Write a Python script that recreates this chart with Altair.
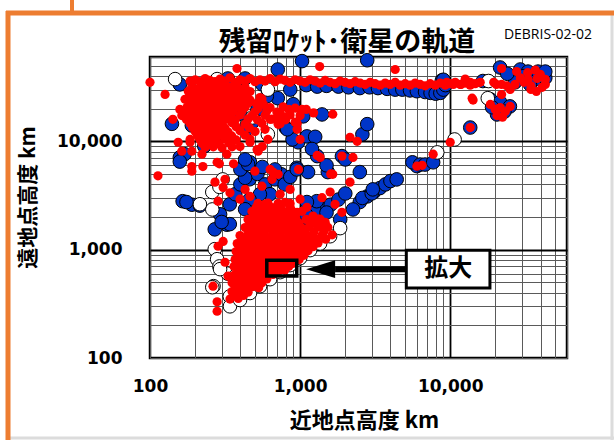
import altair as alt
import pandas as pd

# ---- data: (perigee km, apogee km) ----
BLUE = [
    (158, 33500), (330, 38000), (430, 38000), (710, 46000), (1030, 55000), (2800, 56000),
    (200, 25000), (140, 14500), (190, 14000), (158, 7100), (170, 7600), (215, 16600),
    (520, 19700), (560, 33500), (860, 30000), (710, 25000), (800, 13400), (440, 12900),
    (970, 9800), (890, 10400), (1110, 11100), (820, 12900), (440, 13800), (1400, 17700),
    (1050, 17000), (1260, 11000), (2600, 11600), (2800, 14400), (1300, 7300), (1900, 7300),
    (950, 5700), (2500, 5200), (464, 6400), (420, 5900), (1530, 5200), (1130, 5200),
    (1500, 6000), (1200, 8500), (2000, 6800), (250, 11000), (230, 9000), (320, 28000),
    (380, 30000), (900, 22000), (600, 26000), (300, 12000), (350, 22000), (400, 18000),
    (480, 15000), (280, 16000), (250, 20000),
    (1100, 33000), (1300, 32000), (1500, 32500), (1800, 32000), (2100, 31500), (2500, 31000),
    (2900, 31500), (3300, 31000), (3800, 30500), (4300, 30000), (4800, 30000), (5400, 29500),
    (6000, 29000), (6800, 28500), (7400, 28000), (8000, 27500), (8600, 28000), (9000, 30000),
    (9300, 33000), (8800, 36500), (9000, 37000),
    (21500, 48000), (29300, 46000), (33000, 44000), (36900, 41500), (39800, 37300),
    (43000, 38500), (34000, 33500), (27000, 35000), (38500, 44000), (16500, 36000),
    (43000, 44000), (31000, 40000), (24000, 42000),
    (18500, 24400), (21500, 23000), (25000, 21000), (20500, 17700), (23000, 18800),
    (19000, 20600), (13600, 13400),
    (6000, 5900), (5600, 6400), (6300, 6100), (6800, 6100), (7700, 6400),
    (2500, 2750), (2800, 3100), (3100, 3400), (3400, 3700), (3700, 4000), (4000, 4300),
    (4400, 4450), (2600, 3000), (3000, 3300), (1000, 1700), (1150, 1900), (1300, 2100),
    (1450, 2400), (1600, 2600), (1800, 2900), (2000, 3300), (1250, 2300), (1100, 2100),
    (1290, 2800), (1500, 2200), (1850, 1900), (2250, 2350), (3050, 3600), (1110, 2750),
    (158, 6500), (190, 2600), (215, 2550), (165, 2800), (175, 2750), (270, 1540),
    (325, 1700), (293, 2120), (340, 2620), (370, 3250), (400, 4000), (460, 4460),
    (520, 5000), (585, 4000), (630, 3250), (540, 3250), (460, 2900), (430, 2360),
    (500, 2120), (680, 4460), (750, 4960), (430, 4600), (400, 5500), (560, 5800),
    (680, 5500), (790, 4000), (860, 4700), (340, 1720), (300, 1800), (450, 6150),
    (430, 6800), (950, 5500),
]

WHITE = [
    (147, 37500), (280, 37500), (610, 30000), (480, 16600), (610, 11600), (10700, 10400),
    (8200, 7900), (17800, 25000), (18000, 36000), (260, 3400), (290, 3800), (305, 4450),
    (260, 2350), (215, 2625), (270, 1010), (280, 816), (290, 700), (330, 600), (370, 570),
    (265, 460), (260, 450), (340, 370), (293, 661),
    (341, 300), (398, 343), (464, 398), (541, 460), (631, 534), (736, 620), (858, 720),
    (1000, 835), (1166, 990), (1359, 1140), (1585, 1330), (1848, 1580),
]

RED_BAND = [
    (100, 35000), (185, 36000), (200, 37000), (215, 35500), (233, 38000), (251, 36500),
    (271, 35500), (293, 37500), (316, 36000), (341, 38500), (369, 35000), (398, 37000),
    (430, 36000), (464, 38000), (501, 35500), (541, 37000), (584, 36000), (631, 38000),
    (681, 35500), (736, 37500), (794, 36500), (858, 35000), (926, 37000), (1000, 36000),
    (1080, 35000), (1166, 37000), (1259, 36000), (1359, 34500), (1468, 36500), (1585, 35000),
    (1711, 34000), (1848, 36000), (1995, 35000), (2154, 34000), (2326, 35500), (2512, 34500),
    (2712, 33500), (2929, 35000), (3162, 34000), (3415, 33000), (3687, 34500), (3981, 33500),
    (4299, 35000), (4642, 33000), (5012, 34000), (5412, 33000), (5843, 34500), (6310, 33500),
    (6813, 32500), (7356, 34000), (7943, 33000), (8577, 34500), (9261, 33000), (10000, 34000),
    (10800, 35000), (11660, 33500), (12590, 34500), (13590, 33000), (14680, 34000),
    (15850, 35000), (1350, 49000), (4300, 46000), (380, 47000), (13600, 35000),
    (19500, 35000), (22000, 33500),
]

RED_CLOUD = [
    (190, 32000), (215, 31500), (240, 32500), (270, 31800), (300, 32200), (340, 31600),
    (380, 32000), (430, 31500),
    (180, 28900), (204, 29500), (229, 28500), (259, 29200), (293, 28700), (331, 29300),
    (375, 28600), (424, 29100), (464, 28800),
    (188, 26500), (210, 26800), (236, 26200), (265, 26700), (300, 26300), (345, 26600),
    (390, 26200), (440, 26500),
    (171, 24400), (194, 24800), (219, 24100), (247, 24600), (279, 24200), (316, 24700),
    (358, 24300), (405, 24500), (464, 24000), (557, 24600),
    (185, 22400), (210, 22700), (238, 22200), (270, 22600), (305, 22300), (345, 22500),
    (395, 22200), (450, 22600), (510, 22300),
    (176, 20500), (200, 20900), (225, 20200), (254, 20700), (288, 20300), (325, 20800),
    (369, 20400), (430, 20600), (524, 20100), (631, 20500), (770, 20800), (926, 20200),
    (170, 18800), (192, 19100), (215, 18600), (245, 19000), (278, 18700), (315, 19000),
    (355, 18600), (410, 18900), (500, 18700), (600, 19000), (700, 18600),
    (163, 17300), (185, 17600), (209, 17100), (236, 17500), (268, 17200), (302, 17400),
    (341, 17000), (398, 17500), (478, 17200), (584, 17400), (714, 17100), (858, 17500),
    (1000, 17300),
    (175, 15900), (197, 16200), (222, 15700), (252, 16100), (285, 15800), (325, 16000),
    (370, 15700), (450, 16100), (520, 15800), (650, 16000), (800, 15800),
    (185, 14600), (209, 14900), (236, 14400), (268, 14700), (302, 14500), (352, 14800),
    (430, 14400), (557, 14700), (736, 14500), (955, 14600),
    (192, 13400), (217, 13700), (245, 13200), (278, 13500), (315, 13300), (375, 13600),
    (460, 13300),
    (200, 12300), (225, 12500), (254, 12100), (288, 12400), (331, 12200), (398, 12500),
    (501, 12300),
    (207, 11300), (234, 11500), (265, 11100), (300, 11400), (350, 11200), (430, 11400),
    (215, 10400), (243, 10600), (275, 10300), (316, 10500), (375, 10300), (464, 10500),
    (222, 9600), (250, 9800), (288, 9500), (335, 9700),
    (233, 8800), (264, 8900), (302, 8700), (352, 8900),
    (126, 27100), (142, 15950), (158, 19700), (180, 18600), (185, 10400), (154, 9800),
    (185, 9800), (190, 8100), (163, 8100), (222, 7600), (280, 6400), (325, 7600),
    (398, 8950), (464, 9800), (517, 8400), (560, 8950), (610, 10400), (525, 8100),
    (631, 5500), (190, 5850),
    (430, 26000), (540, 25300), (570, 21900), (736, 18400), (840, 19700), (1030, 19700),
    (1230, 18300), (1100, 19700), (926, 15000), (631, 15950), (794, 16700), (714, 14340),
    (584, 12900), (1000, 10400), (955, 12900), (1360, 7100), (1650, 4960), (1900, 7300),
    (2250, 7100), (2150, 10900), (2400, 10000), (1650, 17800), (1300, 7400),
]

RED_LEO = [
    (113, 4800), (190, 5300), (225, 5850), (290, 6200), (360, 6200), (271, 4200),
    (307, 3750), (284, 2800), (316, 4460), (341, 3350), (500, 5300), (557, 3850),
    (650, 4460), (660, 5200), (714, 4960), (430, 3600), (464, 3100), (398, 2920),
    (584, 2625), (736, 3250), (858, 3600), (541, 2360), (975, 5500), (2150, 4200),
    (1600, 5000),
    (1220, 2040), (1360, 1910), (1470, 1790), (1110, 2460), (1000, 2920), (1400, 3020),
    (1900, 2210), (1710, 2620), (1585, 3400), (794, 2730), (955, 2210),
    (341, 350), (387, 355), (362, 380), (420, 378),
    (352, 410), (398, 420), (450, 405),
    (372, 452), (424, 448), (480, 455), (530, 445),
    (352, 495), (398, 485), (450, 490), (508, 480), (557, 495),
    (375, 530), (424, 538), (480, 532), (540, 528), (600, 536),
    (363, 580), (410, 590), (464, 575), (524, 585), (593, 580), (660, 590),
    (385, 640), (436, 636), (494, 644), (558, 638), (630, 642), (720, 636), (790, 645),
    (363, 700), (410, 680), (464, 695), (524, 690), (593, 700), (670, 685), (760, 690),
    (840, 700),
    (388, 752), (437, 746), (496, 754), (562, 748), (635, 755), (715, 745), (810, 752),
    (900, 748),
    (369, 810), (417, 820), (471, 815), (531, 825), (602, 810), (681, 820), (770, 815),
    (870, 825), (986, 810),
    (393, 886), (445, 894), (505, 888), (570, 892), (645, 886), (730, 894), (820, 888),
    (930, 892), (1060, 886),
    (375, 960), (424, 975), (478, 965), (541, 970), (611, 960), (692, 975), (782, 965),
    (883, 970), (1000, 960), (1130, 975),
    (400, 1055), (453, 1065), (510, 1058), (578, 1062), (655, 1056), (745, 1064),
    (840, 1058), (950, 1062), (1080, 1055), (1220, 1065),
    (381, 1140), (430, 1160), (485, 1150), (549, 1145), (620, 1155), (703, 1150),
    (794, 1140), (896, 1160), (1016, 1150), (1148, 1145), (1318, 1155),
    (415, 1245), (468, 1255), (530, 1248), (600, 1252), (680, 1246), (770, 1256),
    (870, 1248), (990, 1254), (1120, 1246), (1280, 1252), (1480, 1248),
    (398, 1350), (450, 1370), (508, 1355), (575, 1365), (650, 1350), (736, 1370),
    (840, 1360), (940, 1355), (1062, 1365), (1202, 1350), (1400, 1360), (1635, 1370),
    (455, 1465), (515, 1475), (580, 1468), (660, 1472), (750, 1466), (850, 1474),
    (960, 1468), (1080, 1472), (1240, 1466), (1440, 1474),
    (430, 1600), (485, 1620), (549, 1610), (620, 1625), (703, 1600), (794, 1615),
    (896, 1620), (1016, 1605), (1148, 1615), (1318, 1625), (1530, 1610),
    (465, 1755), (525, 1765), (600, 1758), (675, 1762), (765, 1756), (865, 1764),
    (980, 1758), (1200, 1762), (1420, 1756),
    (450, 1900), (508, 1920), (575, 1910), (650, 1895), (736, 1915), (840, 1905),
    (940, 1920), (1097, 1900), (1318, 1910),
    (490, 2075), (560, 2085), (630, 2078), (715, 2082), (810, 2076), (930, 2084),
    (478, 2250), (541, 2270), (611, 2255), (692, 2265), (782, 2250), (883, 2270),
    (1032, 2260),
    (510, 2445), (575, 2455), (650, 2448), (740, 2452), (860, 2446),
    (524, 2670), (611, 2690), (714, 2680), (858, 2670),
    (280, 330), (280, 270), (263, 460), (284, 1075), (307, 1190), (331, 570), (316, 765),
]

RED_HIGH = [
    (22000, 47000), (27700, 44000), (32800, 43000), (36900, 45500), (31000, 35000),
    (34500, 32500), (38000, 38000), (43000, 37300), (41000, 31500), (34500, 30150),
    (37500, 28900), (43000, 33500), (20300, 33500), (23800, 32500), (27000, 33500),
    (12600, 37500), (11800, 33500), (9500, 35000), (10500, 33500), (14200, 24000),
    (29300, 38500), (33000, 37300), (39800, 41500), (25100, 30150),
    (18500, 21900), (19950, 19700), (21500, 20500), (23300, 18800), (25100, 21000),
    (20500, 17300), (22300, 16700), (14000, 25000), (22000, 27000),
    (10000, 9800), (7700, 7600), (6000, 5900), (13600, 13400), (6500, 6000),
]

GRID_VALUES = [100, 200, 300, 400, 500, 600, 700, 800, 900,
               1000, 2000, 3000, 4000, 5000, 6000, 7000, 8000, 9000,
               10000, 20000, 30000, 40000, 50000, 60000]
AXIS_DOMAIN = [100, 60000]

TITLE = "残留ﾛｹｯﾄ･衛星の軌道"
CODE = "DEBRIS-02-02"
X_TITLE = "近地点高度 km"
Y_TITLE = "遠地点高度 km"
ZOOM_LABEL = "拡大"
ZOOM_RECT = [(600, 950, 570, 800)]
LABEL_BOX = [(5100, 18400, 442, 990)]
ARROW = [(1710, 5100, 661)]
ARROW_HEAD = [(1370, 661)]
LABEL_POS = [(9700, 661, ZOOM_LABEL)]

ORANGE = "#ED7D31"
BLUE_C = "#0035C8"
RED_C = "#FF0000"
JP = "Noto Sans CJK JP"


def frame(pairs):
    return pd.DataFrame(pairs, columns=["x", "y"])


xscale = alt.Scale(type="log", domain=AXIS_DOMAIN, nice=False)
yscale = alt.Scale(type="log", domain=AXIS_DOMAIN, nice=False)

label_expr = "(datum.value==100||datum.value==1000||datum.value==10000)?format(datum.value,','):''"
major = "datum.value==1000||datum.value==10000"

x_axis = alt.Axis(values=GRID_VALUES, labelExpr=label_expr, grid=True,
                  gridColor={"condition": {"test": major, "value": "#000000"}, "value": "#5a5a5a"},
                  gridWidth={"condition": {"test": major, "value": 1.8}, "value": 1},
                  ticks=False, domain=False, labelFont="DejaVu Sans",
                  labelFontSize=17, labelFontWeight="bold", labelColor="black", labelPadding=20,
                  labelFlush=False, labelOverlap=False, title=X_TITLE, titleFont=JP,
                  titleFontSize=22, titleFontWeight="bold", titleColor="black",
                  titleX=214, titleY=62, titleBaseline="middle")
y_axis = alt.Axis(values=GRID_VALUES, labelExpr=label_expr, grid=True,
                  gridColor={"condition": {"test": major, "value": "#000000"}, "value": "#5a5a5a"},
                  gridWidth={"condition": {"test": major, "value": 1.8}, "value": 1},
                  ticks=False, domain=False, labelFont="DejaVu Sans",
                  labelFontSize=17, labelFontWeight="bold", labelColor="black", labelPadding=28,
                  labelFlush=False, labelOverlap=False, title=Y_TITLE, titleFont=JP,
                  titleFontSize=21, titleFontWeight="bold", titleColor="black",
                  titleX=-122, titleY=140, titleAngle=270, titleBaseline="middle")

X = alt.X("x:Q", scale=xscale, axis=x_axis)
Y = alt.Y("y:Q", scale=yscale, axis=y_axis)

blue = alt.Chart(frame(BLUE)).mark_point(
    shape="circle", filled=True, fill=BLUE_C, stroke="black", strokeWidth=1,
    size=185, opacity=1, fillOpacity=1, strokeOpacity=1
).encode(x=X, y=Y)

white = alt.Chart(frame(WHITE)).mark_point(
    shape="circle", filled=True, fill="white", stroke="black", strokeWidth=1,
    size=185, opacity=1, fillOpacity=1, strokeOpacity=1
).encode(x=X, y=Y)

red = alt.Chart(frame(RED_BAND + RED_CLOUD + RED_LEO + RED_HIGH)).mark_circle(
    color=RED_C, size=85, opacity=1
).encode(x=X, y=Y)

zoom_rect = alt.Chart(pd.DataFrame(ZOOM_RECT, columns=["x", "x2", "y", "y2"])).mark_rect(
    fillOpacity=0, stroke="black", strokeWidth=3.5
).encode(x=X, x2="x2:Q", y=Y, y2="y2:Q")

arrow = alt.Chart(pd.DataFrame(ARROW, columns=["x", "x2", "y"])).mark_rule(
    color="black", strokeWidth=6
).encode(x=X, x2="x2:Q", y=Y)

head = alt.Chart(pd.DataFrame(ARROW_HEAD, columns=["x", "y"])).mark_point(
    shape="M -1 0 L 1 -0.62 L 1 0.62 Z", size=841, filled=True, color="black", opacity=1
).encode(x=X, y=Y)

box = alt.Chart(pd.DataFrame(LABEL_BOX, columns=["x", "x2", "y", "y2"])).mark_rect(
    fill="white", stroke="black", strokeWidth=3
).encode(x=X, x2="x2:Q", y=Y, y2="y2:Q")

box_text = alt.Chart(pd.DataFrame(LABEL_POS, columns=["x", "y", "t"])).mark_text(
    font=JP, fontSize=24, fontWeight="bold", color="black", baseline="middle", align="center"
).encode(x=X, y=Y, text="t:N")

one = pd.DataFrame({"a": [0]})

title = alt.Chart(pd.DataFrame({"t": [TITLE]})).mark_text(
    font=JP, fontSize=27, fontWeight="bold", color="black", baseline="middle", align="center"
).encode(x=alt.value(197), y=alt.value(-14), text="t:N")

code = alt.Chart(pd.DataFrame({"t": [CODE]})).mark_text(
    font="Open Sans", fontSize=14, color="black", baseline="middle", align="center"
).encode(x=alt.value(398), y=alt.value(-22), text="t:N")

frame_left = alt.Chart(one).mark_rule(color=ORANGE, strokeWidth=5).encode(
    x=alt.value(-142), y=alt.value(-46), y2=alt.value(383))
frame_top = alt.Chart(one).mark_rule(color=ORANGE, strokeWidth=5).encode(
    y=alt.value(-44), x=alt.value(-144), x2=alt.value(464))
frame_tab = alt.Chart(one).mark_rule(color=ORANGE, strokeWidth=4).encode(
    x=alt.value(-78), y=alt.value(-57), y2=alt.value(-44))
edge_right = alt.Chart(one).mark_rule(color="#dcdcdc", strokeWidth=3).encode(
    x=alt.value(462), y=alt.value(-42), y2=alt.value(383))
edge_bottom = alt.Chart(one).mark_rule(color="#dcdcdc", strokeWidth=3).encode(
    y=alt.value(381), x=alt.value(-140), x2=alt.value(464))

chart = alt.layer(
    blue, white, red, zoom_rect, arrow, head, box, box_text, title, code,
    edge_right, edge_bottom, frame_left, frame_top, frame_tab
).properties(
    width=417, height=301,
    padding={"left": 150, "top": 57, "right": 47, "bottom": 82},
    autosize=alt.AutoSizeParams(type="none"),
    background="white",
).configure_view(stroke="black", strokeWidth=2.5)

chart.save("out.html", embed_options={"renderer": "svg", "actions": False})
